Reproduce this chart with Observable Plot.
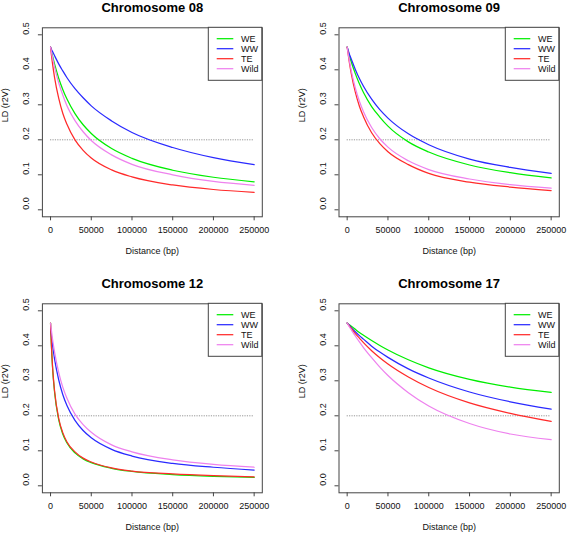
<!DOCTYPE html>
<html><head><meta charset="utf-8">
<script src="https://cdn.jsdelivr.net/npm/d3@7"></script>
<script src="https://cdn.jsdelivr.net/npm/@observablehq/plot@0.6"></script>
<style>
body{margin:0;background:#fff;}
#wrap{position:relative;width:567px;height:536px;background:#fff;}
.panel{position:absolute;}
</style></head><body><div id="wrap"></div>
<script>
// ---- data ----
const distance = [0, 1000, 2500, 5000, 10000, 15000, 20000, 30000, 40000, 50000, 75000, 100000, 150000, 200000, 250000];
const groups = ["WE", "WW", "TE", "Wild"];
const xTicks = [0, 50000, 100000, 150000, 200000, 250000];
const yTicks = [0, 0.1, 0.2, 0.3, 0.4, 0.5];
const threshold = 0.2;
const thresholdRange = [0, 250000];
const titles = ["Chromosome 08", "Chromosome 09", "Chromosome 12", "Chromosome 17"];
const xLabel = "Distance (bp)";
const yLabel = "LD (r2V)";

const chr08_WE   = [0.465, 0.454, 0.439, 0.416, 0.376, 0.344, 0.317, 0.275, 0.243, 0.218, 0.175, 0.147, 0.113, 0.093, 0.080];
const chr08_WW   = [0.465, 0.459, 0.452, 0.440, 0.417, 0.397, 0.378, 0.346, 0.320, 0.297, 0.254, 0.221, 0.178, 0.149, 0.129];
const chr08_TE   = [0.465, 0.444, 0.416, 0.377, 0.319, 0.276, 0.245, 0.200, 0.170, 0.148, 0.114, 0.094, 0.071, 0.058, 0.050];
const chr08_Wild = [0.465, 0.452, 0.434, 0.407, 0.363, 0.328, 0.298, 0.255, 0.223, 0.198, 0.157, 0.130, 0.100, 0.081, 0.070];

const chr09_WE   = [0.465, 0.456, 0.443, 0.423, 0.389, 0.360, 0.335, 0.295, 0.265, 0.239, 0.194, 0.165, 0.128, 0.106, 0.091];
const chr09_WW   = [0.465, 0.4575, 0.446, 0.431, 0.401, 0.375, 0.353, 0.316, 0.286, 0.262, 0.217, 0.186, 0.145, 0.121, 0.104];
const chr09_TE   = [0.465, 0.448, 0.424, 0.390, 0.336, 0.296, 0.266, 0.220, 0.189, 0.166, 0.129, 0.104, 0.079, 0.065, 0.055];
const chr09_Wild = [0.465, 0.450, 0.429, 0.398, 0.348, 0.310, 0.280, 0.235, 0.203, 0.179, 0.140, 0.115, 0.088, 0.072, 0.062];

const chr12_WE   = [0.465, 0.403, 0.336, 0.266, 0.189, 0.148, 0.123, 0.094, 0.077, 0.066, 0.050, 0.041, 0.032, 0.027, 0.024];
const chr12_WW   = [0.450, 0.430, 0.401, 0.361, 0.303, 0.261, 0.230, 0.187, 0.158, 0.137, 0.104, 0.085, 0.064, 0.053, 0.045];
const chr12_TE   = [0.465, 0.405, 0.339, 0.270, 0.193, 0.152, 0.126, 0.097, 0.079, 0.068, 0.051, 0.042, 0.034, 0.029, 0.0255];
const chr12_Wild = [0.465, 0.445, 0.418, 0.381, 0.324, 0.282, 0.251, 0.205, 0.175, 0.153, 0.117, 0.097, 0.074, 0.061, 0.053];

const chr17_WE   = [0.465, 0.463, 0.460, 0.456, 0.447, 0.438, 0.430, 0.415, 0.401, 0.388, 0.360, 0.337, 0.304, 0.282, 0.267];
const chr17_WW   = [0.465, 0.4624, 0.459, 0.452, 0.440, 0.429, 0.419, 0.399, 0.382, 0.367, 0.334, 0.308, 0.268, 0.240, 0.219];
const chr17_TE   = [0.465, 0.4618, 0.457, 0.450, 0.435, 0.422, 0.409, 0.386, 0.366, 0.348, 0.311, 0.281, 0.237, 0.207, 0.184];
const chr17_Wild = [0.465, 0.4611, 0.455, 0.446, 0.428, 0.411, 0.395, 0.366, 0.339, 0.315, 0.266, 0.228, 0.178, 0.148, 0.132];

const series = [
  [chr08_WE, chr08_WW, chr08_TE, chr08_Wild],
  [chr09_WE, chr09_WW, chr09_TE, chr09_Wild],
  [chr12_WE, chr12_WW, chr12_TE, chr12_Wild],
  [chr17_WE, chr17_WW, chr17_TE, chr17_Wild]
];

// ---- style / layout ----
const colors = ["#00ee00", "#2a2aff", "#ff2a2a", "#ee82ee"];
const layout = [
  {left: 0,   top: 0,   w: 283, ml: 41.9, mr: 21.2, mt: 27.3, mb: 51.7},
  {left: 283, top: 0,   w: 284, ml: 55.5, mr: 8.2,  mt: 27.3, mb: 51.7},
  {left: 0,   top: 268, w: 283, ml: 41.9, mr: 21.2, mt: 35.3, mb: 43.7},
  {left: 283, top: 268, w: 284, ml: 55.5, mr: 8.2,  mt: 35.3, mb: 43.7}
];
const FONT = "'Liberation Sans', Arial, Helvetica, sans-serif";
const wrap = document.getElementById("wrap");

layout.forEach((p, k) => {
  const rows = [];
  groups.forEach((g, i) => series[k][i].forEach((v, j) => rows.push({d: distance[j], r2: v, group: g})));
  const svg = Plot.plot({
    width: p.w, height: 268,
    marginLeft: p.ml, marginRight: p.mr, marginTop: p.mt, marginBottom: p.mb,
    style: {fontFamily: FONT, fontSize: "9px", color: "#111", background: "white", overflow: "visible"},
    x: {domain: [-10000, 260000]},
    y: {domain: [-0.02, 0.52]},
    color: {domain: groups, range: colors},
    marks: [
      Plot.ruleY([threshold], {x1: thresholdRange[0], x2: thresholdRange[1], stroke: "#8a8a8a", strokeDasharray: "1.2,1.2", strokeWidth: 0.9}),
      Plot.line(rows, {x: "d", y: "r2", z: "group", stroke: "group", curve: "monotone-x", strokeWidth: 1.25}),
      Plot.frame({stroke: "#444"}),
      Plot.axisX({ticks: xTicks, tickSize: 4, tickPadding: 6, tickFormat: d => String(d), stroke: "#444", fill: "#111", fontSize: 9, label: null}),
      Plot.axisY({ticks: yTicks, tickSize: 4, tickFormat: () => "", stroke: "#444", label: null}),
      Plot.text(yTicks, {y: d => d, text: d => d.toFixed(1), frameAnchor: "left", dx: -16, rotate: -90, fontSize: 9, fill: "#111"}),
      Plot.text([titles[k]], {frameAnchor: "top", dy: -15.5, lineAnchor: "bottom", fontWeight: "bold", fontSize: 13, fill: "#000"}),
      Plot.text([xLabel], {frameAnchor: "bottom", dy: 37, fontSize: 9, fill: "#111"}),
      Plot.text([yLabel], {frameAnchor: "left", dx: -37, rotate: -90, fontSize: 9, fill: "#111"})
    ]
  });
  // legend (top-right, inside the box)
  const lw = 53.5, lh = 53;
  const L = d3.select(svg).append("g")
    .attr("transform", `translate(${p.w - p.mr - lw},${p.mt})`)
    .attr("text-anchor", "start")
    .style("font-family", FONT).style("font-size", "9px");
  L.append("rect").attr("width", lw).attr("height", lh).attr("fill", "white").attr("stroke", "#444");
  groups.forEach((g, i) => {
    const y = 11.4 + i * 10;
    L.append("line").attr("x1", 8.4).attr("x2", 25).attr("y1", y).attr("y2", y)
      .attr("stroke", colors[i]).attr("stroke-width", 1.25);
    L.append("text").attr("x", 32.7).attr("y", y).attr("dy", "0.35em")
      .attr("text-anchor", "start").attr("fill", "#111").text(g);
  });
  const div = document.createElement("div");
  div.className = "panel";
  div.style.left = p.left + "px";
  div.style.top = p.top + "px";
  div.appendChild(svg);
  wrap.appendChild(div);
});
</script>
</body></html>
